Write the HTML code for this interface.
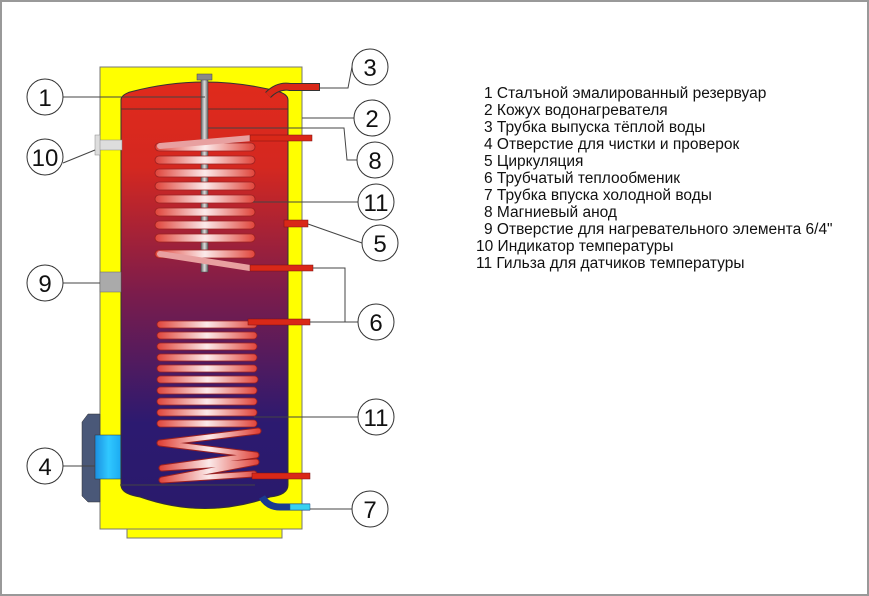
<!DOCTYPE html>
<html><head><meta charset="utf-8"><style>
html,body{margin:0;padding:0;background:#fff}
svg{display:block}
text{font-family:"Liberation Sans",sans-serif}
</style></head><body>
<svg width="869" height="596" viewBox="0 0 869 596" xmlns="http://www.w3.org/2000/svg">
<defs>
<linearGradient id="tank" x1="0" y1="0" x2="0" y2="1">
<stop offset="0" stop-color="#e02a1c"/><stop offset="0.2" stop-color="#d42820"/>
<stop offset="0.5" stop-color="#7a1c4c"/><stop offset="0.8" stop-color="#2c1a70"/><stop offset="1" stop-color="#2a1a6c"/>
</linearGradient>
<linearGradient id="coil" x1="0" y1="0" x2="1" y2="0">
<stop offset="0" stop-color="#e0443a"/><stop offset="0.5" stop-color="#fbeaea"/><stop offset="1" stop-color="#e0443a"/>
</linearGradient>
<linearGradient id="rod" x1="0" y1="0" x2="1" y2="0">
<stop offset="0" stop-color="#666"/><stop offset="0.5" stop-color="#ddd"/><stop offset="1" stop-color="#666"/>
</linearGradient>
<linearGradient id="blue" x1="0" y1="0" x2="1" y2="0">
<stop offset="0" stop-color="#1b8ee0"/><stop offset="0.5" stop-color="#30c8ff"/><stop offset="1" stop-color="#1aa8f0"/>
</linearGradient>
</defs>
<rect x="1" y="1" width="867" height="594" fill="#fff" stroke="#999" stroke-width="2"/>
<rect x="127" y="529" width="155" height="9" fill="#ffff00" stroke="#777" stroke-width="1"/>
<rect x="100" y="67" width="202" height="462" fill="#ffff00" stroke="#777" stroke-width="1"/>
<path d="M88 414 H100 V502 H88 L82 496 V422 Z" fill="#4a5878" stroke="#333" stroke-width="0.5"/>
<rect x="95" y="435" width="27" height="44" fill="url(#blue)" stroke="#333" stroke-width="0.5"/>
<path d="M121 100 Q121 95 130 92 Q205 72 280 92 Q288 95 288 100 V485 Q288 495 270 497 Q205 520 140 497 Q121 494 121 485 Z" fill="url(#tank)" stroke="#333" stroke-width="1"/>
<line x1="121" y1="109" x2="288" y2="109" stroke="#333" stroke-width="0.8"/>
<rect x="100" y="272" width="21" height="20" fill="#aaa" stroke="#666" stroke-width="0.5"/>
<rect x="99" y="140" width="23" height="10" fill="#ddd" stroke="#888" stroke-width="0.5"/>
<rect x="95" y="135" width="5" height="20" fill="#ddd" stroke="#888" stroke-width="0.5"/>
<path d="M268 95 Q278 85 290 87 H320" fill="none" stroke="#333" stroke-width="8"/>
<path d="M268 95 Q278 85 290 87 H319" fill="none" stroke="#d92818" stroke-width="6"/>
<rect x="201" y="78" width="7" height="194" fill="url(#rod)" stroke="#444" stroke-width="0.5"/>
<rect x="197" y="74" width="15" height="6" fill="#888" stroke="#444" stroke-width="0.5"/>
<g fill="url(#coil)" stroke="#9a2020" stroke-width="0.8">
<rect x="155" y="143" width="100" height="8" rx="4"/>
<rect x="155" y="156" width="100" height="8" rx="4"/>
<rect x="155" y="169" width="100" height="8" rx="4"/>
<rect x="155" y="182" width="100" height="8" rx="4"/>
<rect x="155" y="195" width="100" height="8" rx="4"/>
<rect x="155" y="208" width="100" height="8" rx="4"/>
<rect x="155" y="221" width="100" height="8" rx="4"/>
<rect x="155" y="234" width="100" height="8" rx="4"/>
<rect x="155" y="250" width="100" height="8" rx="4"/>
</g>
<path d="M160 254 L250 268 M160 146 L252 138" stroke="#e8a0a0" stroke-width="6" stroke-linecap="round"/>
<rect x="250" y="135" width="62" height="6" fill="#d92818" stroke="#7a1010" stroke-width="0.5"/>
<rect x="250" y="265" width="63" height="6" fill="#d92818" stroke="#7a1010" stroke-width="0.5"/>
<rect x="284" y="220" width="24" height="7" fill="#d92818" stroke="#7a1010" stroke-width="0.5"/>
<g fill="url(#coil)" stroke="#9a2020" stroke-width="0.8">
<rect x="157" y="321" width="100" height="7" rx="3.5"/>
<rect x="157" y="332" width="100" height="7" rx="3.5"/>
<rect x="157" y="343" width="100" height="7" rx="3.5"/>
<rect x="157" y="354" width="100" height="7" rx="3.5"/>
<rect x="157" y="365" width="100" height="7" rx="3.5"/>
<rect x="157" y="376" width="101" height="7" rx="3.5"/>
<rect x="157" y="387" width="100" height="7" rx="3.5"/>
<rect x="157" y="398" width="100" height="7" rx="3.5"/>
<rect x="157" y="409" width="100" height="7" rx="3.5"/>
<rect x="157" y="420" width="100" height="7" rx="3.5"/>
</g>
<polyline points="258,431 160,443 256,455 162,468 256,462 162,480 254,474" fill="none" stroke="#9a2020" stroke-width="7" stroke-linecap="round" stroke-linejoin="round"/>
<polyline points="258,431 160,443 256,455 162,468 256,462 162,480 254,474" fill="none" stroke="url(#coil)" stroke-width="5" stroke-linecap="round" stroke-linejoin="round"/>
<rect x="248" y="319" width="62" height="6" fill="#d92818" stroke="#7a1010" stroke-width="0.5"/>
<rect x="252" y="473" width="58" height="6" fill="#d92818" stroke="#7a1010" stroke-width="0.5"/>
<path d="M262 497 Q268 507 280 507 H310" fill="none" stroke="#1a3a90" stroke-width="7"/>
<rect x="290" y="504" width="20" height="6" fill="#3ad0f0" stroke="#1a5a90" stroke-width="0.5"/>
<g stroke="#444" stroke-width="1" fill="none">
<path d="M63 97 H205"/>
<path d="M63 163 L95 150"/>
<path d="M63 283 H100"/>
<path d="M63 466 H95"/>
<path d="M320 88 H348 L352 67"/>
<path d="M302 118 H354"/>
<path d="M208 128 H344 L347 160 H357"/>
<path d="M253 202 H358"/>
<path d="M308 224 L362 243"/>
<path d="M313 268 H345 V322 H358 M310 322 H345"/>
<path d="M254 417 H358"/>
<path d="M310 509 H352"/>
<path d="M120 485 H255"/>
</g>
<g fill="#fff" stroke="#333" stroke-width="1">
<circle cx="45" cy="97" r="18"/><circle cx="45" cy="157" r="18"/><circle cx="45" cy="283" r="18"/><circle cx="45" cy="466" r="18"/>
<circle cx="370" cy="67" r="18"/><circle cx="372" cy="118" r="18"/><circle cx="375" cy="160" r="18"/><circle cx="376" cy="202" r="18"/>
<circle cx="380" cy="243" r="18"/><circle cx="376" cy="322" r="18"/><circle cx="376" cy="417" r="18"/><circle cx="370" cy="509" r="18"/>
</g>
<g font-size="24" text-anchor="middle" fill="#111">
<text x="45" y="106">1</text><text x="45" y="166">10</text><text x="45" y="292">9</text><text x="45" y="475">4</text>
<text x="370" y="76">3</text><text x="372" y="127">2</text><text x="375" y="169">8</text><text x="376" y="211">11</text>
<text x="380" y="252">5</text><text x="376" y="331">6</text><text x="376" y="426">11</text><text x="370" y="518">7</text>
</g>
<g font-size="15.5" fill="#111">
<text x="484" y="98">1 Сталъной эмалированный резервуар</text>
<text x="484" y="115">2 Кожух водонагревателя</text>
<text x="484" y="132">3 Трубка выпуска тёплой воды</text>
<text x="484" y="149">4 Отверстие для чистки и проверок</text>
<text x="484" y="166">5 Циркуляция</text>
<text x="484" y="183">6 Трубчатый теплообменик</text>
<text x="484" y="200">7 Трубка впуска холодной воды</text>
<text x="484" y="217">8 Магниевый анод</text>
<text x="484" y="234">9 Отверстие для нагревательного элемента 6/4"</text>
<text x="476" y="251">10 Индикатор температуры</text>
<text x="476" y="268">11 Гильза для датчиков температуры</text>
</g>
</svg>
</body></html>
